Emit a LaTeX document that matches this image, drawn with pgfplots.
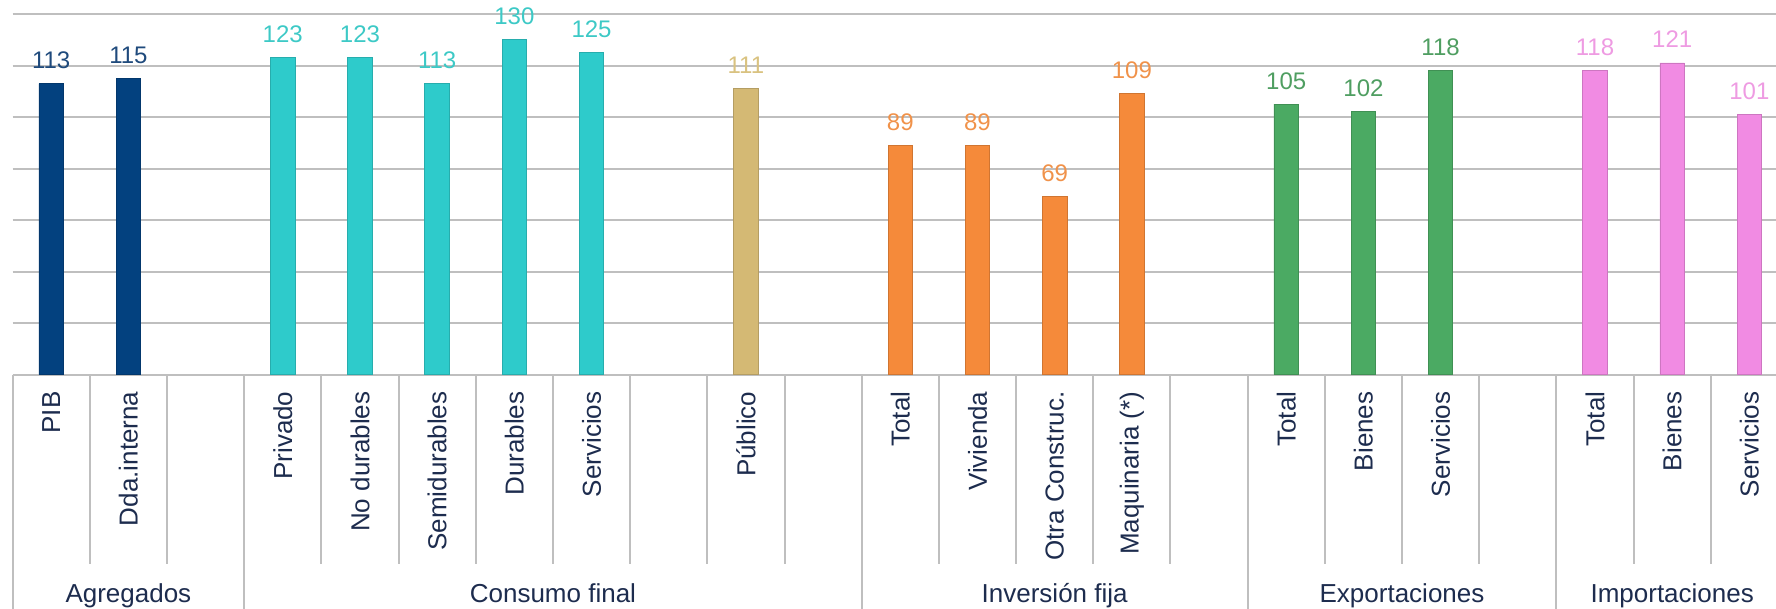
\documentclass[border=0pt]{standalone}
\usepackage{pgfplots}
\pgfplotsset{compat=1.18}
\usepackage{fontspec}
\setmainfont{Liberation Sans}
\definecolor{cBlue}{HTML}{03417F}
\definecolor{lBlue}{HTML}{1F4A7C}
\definecolor{cTeal}{HTML}{2ECBCB}
\definecolor{lTeal}{HTML}{3DC9C6}
\definecolor{cTan}{HTML}{D4B974}
\definecolor{lTan}{HTML}{D9C280}
\definecolor{cOrange}{HTML}{F58A3A}
\definecolor{lOrange}{HTML}{F0924A}
\definecolor{cGreen}{HTML}{4BAA63}
\definecolor{lGreen}{HTML}{4F9E61}
\definecolor{cPink}{HTML}{F18BE3}
\definecolor{lPink}{HTML}{EE9BE2}
\definecolor{gridc}{HTML}{BFBFBF}
\definecolor{catc}{HTML}{1D2C4E}
\tikzset{
  catlab/.style={rotate=90, anchor=east, inner sep=0pt, font=\fontsize{13bp}{15bp}\selectfont, text=catc},
  grplab/.style={anchor=base, inner sep=0pt, font=\fontsize{13bp}{15bp}\selectfont, text=catc},
  sepline/.style={draw=gridc, line width=1bp},
}
\newcommand{\cat}[2]{\node[catlab] at ([yshift=-8.35bp]axis cs:#1,0) {#2};}
\newcommand{\grp}[2]{\node[grplab] at ([yshift=-114.1bp]axis cs:#1,0) {#2};}
\begin{document}
\begin{tikzpicture}
\begin{axis}[
  scale only axis, width=881.7bp, height=180.25bp,
  xmin=-0.5, xmax=22.345, ymin=0, ymax=140,
  xtick=\empty, ytick={0,20,...,140}, yticklabels={},
  ymajorgrids, grid style={draw=gridc, line width=1bp},
  axis line style={draw=none}, tick style={draw=none},
  clip=false,
  /pgf/number format/assume math mode=true,
  ybar, bar width=12.25bp,
  nodes near coords={\pgfmathprintnumber{\pgfplotspointmeta}},
  every node near coord/.append style={font=\fontsize{12bp}{14bp}\selectfont, anchor=base, yshift=7.5bp, inner sep=0pt},
]
\addplot[bar shift=0pt, fill=cBlue, draw=cBlue!85!black, line width=0.4bp, every node near coord/.append style={text=lBlue}] coordinates {(0,113) (1,115)};
\addplot[bar shift=0pt, fill=cTeal, draw=cTeal!85!black, line width=0.4bp, every node near coord/.append style={text=lTeal}] coordinates {(3,123) (4,123) (5,113) (6,130) (7,125)};
\addplot[bar shift=0pt, fill=cTan, draw=cTan!85!black, line width=0.4bp, every node near coord/.append style={text=lTan}] coordinates {(9,111)};
\addplot[bar shift=0pt, fill=cOrange, draw=cOrange!85!black, line width=0.4bp, every node near coord/.append style={text=lOrange}] coordinates {(11,89) (12,89) (13,69) (14,109)};
\addplot[bar shift=0pt, fill=cGreen, draw=cGreen!85!black, line width=0.4bp, every node near coord/.append style={text=lGreen}] coordinates {(16,105) (17,102) (18,118)};
\addplot[bar shift=0pt, fill=cPink, draw=cPink!85!black, line width=0.4bp, every node near coord/.append style={text=lPink}] coordinates {(20,118) (21,121) (22,101)};
\pgfplotsinvokeforeach{0.5,1.5,3.5,4.5,5.5,6.5,7.5,8.5,9.5,11.5,12.5,13.5,14.5,16.5,17.5,18.5,20.5,21.5}{
  \draw[sepline] (axis cs:#1,0) -- ([yshift=-94.5bp]axis cs:#1,0);
}
\pgfplotsinvokeforeach{-0.5,2.5,10.5,15.5,19.5}{
  \draw[sepline] (axis cs:#1,0) -- ([yshift=-120bp]axis cs:#1,0);
}
\cat{0}{PIB}
\cat{1}{Dda.interna}
\cat{3}{Privado}
\cat{4}{No durables}
\cat{5}{Semidurables}
\cat{6}{Durables}
\cat{7}{Servicios}
\cat{9}{Público}
\cat{11}{Total}
\cat{12}{Vivienda}
\cat{13}{Otra Construc.}
\cat{14}{Maquinaria (*)}
\cat{16}{Total}
\cat{17}{Bienes}
\cat{18}{Servicios}
\cat{20}{Total}
\cat{21}{Bienes}
\cat{22}{Servicios}
\grp{1}{Agregados}
\grp{6.5}{Consumo final}
\grp{13}{Inversión fija}
\grp{17.5}{Exportaciones}
\grp{21}{Importaciones}
\coordinate (TL) at (rel axis cs:0,1);
\coordinate (BR) at (rel axis cs:1,0);
\end{axis}
\pgfresetboundingbox
\path[use as bounding box] ([xshift=-6.3bp,yshift=7bp]TL) rectangle ([yshift=-117.25bp]BR);
\end{tikzpicture}
\end{document}
